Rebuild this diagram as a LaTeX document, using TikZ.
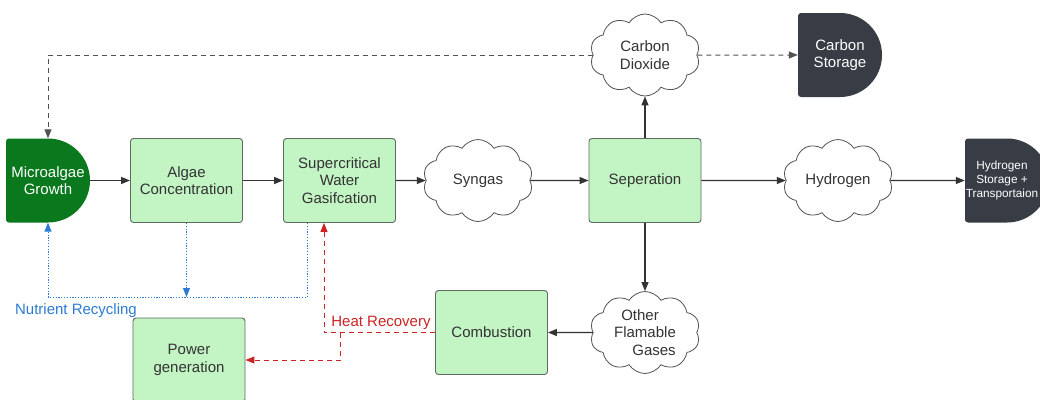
\documentclass[tikz,border=0pt]{standalone}
\usepackage{fontspec}
\setmainfont{Liberation Sans}
\usetikzlibrary{arrows.meta,shapes.symbols,calc}
\definecolor{boxfill}{HTML}{C3F4C4}
\definecolor{boxline}{HTML}{5E6B60}
\definecolor{darkgreen}{HTML}{0A781C}
\definecolor{slate}{HTML}{373C45}
\definecolor{ink}{HTML}{333333}
\definecolor{nutblue}{HTML}{2B7BD3}
\definecolor{heatred}{HTML}{CC2424}
\tikzset{
  x=1pt, y=-1pt,
  every node/.style={font=\fontsize{15}{17.5}\selectfont, text=ink, align=center},
  procbox/.style={draw=boxline, fill=boxfill, line width=0.9pt, rounded corners=3pt,
    minimum width=112pt, minimum height=84pt, inner sep=0pt},
  puff/.style={cloud, draw=ink!85, fill=white, line width=0.8pt, cloud puffs=10,
    cloud puff arc=115, aspect=1.35, minimum width=110pt, minimum height=82pt, inner sep=0pt},
  dnode/.style={minimum width=84pt, minimum height=84pt, inner sep=0pt},
  flow/.style={draw=ink, line width=1.3pt, -{Triangle[length=9pt,width=7pt]}},
  co2line/.style={draw=ink!85, line width=1pt, dash pattern=on 5pt off 4pt,
    -{Triangle[length=9pt,width=7pt]}},
  nut/.style={draw=nutblue, line width=1pt, dash pattern=on 1.2pt off 1.6pt,
    -{Triangle[length=9pt,width=7pt]}},
  heat/.style={draw=heatred, line width=1pt, dash pattern=on 5pt off 4pt,
    -{Triangle[length=9pt,width=7pt]}},
}
% D-shaped terminal: straight left side, semicircular right side (y axis points down)
\newcommand{\dshape}[3]{% centre x, centre y, fill colour
  \fill[#3, rounded corners=3pt] (#1-42,#2+42) -- (#1-42,#2-42) [sharp corners] -- (#1,#2-42)
    arc[start angle=-90, end angle=90, radius=42] [rounded corners=3pt] -- (#1-42,#2+42) -- cycle;
}
\begin{document}
\begin{tikzpicture}
\useasboundingbox (0,0) rectangle (1040,399);
\fill[white] (0,0) rectangle (1040,399);

% terminals
\dshape{48}{180.5}{darkgreen}
\node[dnode, text=white] (growth) at (48,180.5) {Microalgae\\Growth};
\dshape{840}{55}{slate}
\node[dnode, text=white] (cstore) at (840,55) {Carbon\\Storage};
\dshape{1007}{180.5}{slate}
\node[dnode, minimum width=74pt, text=white, font=\fontsize{11.8}{14.3}\selectfont] (hstore) at (1002,180.5) {Hydrogen\\Storage +\\Transportaion};

% process boxes
\node[procbox] (conc) at (186.5,180.5) {Algae\\Concentration};
\node[procbox] (scwg) at (339.5,180.5) {Supercritical\\Water\\Gasifcation};
\node[procbox] (sep) at (645,180.5) {Seperation};
\node[procbox] (comb) at (491.5,332.5) {Combustion};
\node[procbox] (power) at (189,360) {Power\\generation};

% gas clouds
\node[puff] (syngas) at (478,180.5) {Syngas};
\node[puff] (hydro) at (838,180.5) {Hydrogen};
\node[puff] (co2) at (645,55) {Carbon\\Dioxide};
\node[puff] (other) at (645,332.5) {\hspace*{-10pt}Other\\Flamable\\\hspace*{18pt}Gases};

% main process flow
\draw[flow] (growth) -- (conc);
\draw[flow] (conc) -- (scwg);
\draw[flow] (scwg) -- (syngas);
\draw[flow] (syngas) -- (sep);
\draw[flow] (sep) -- (hydro);
\draw[flow] (hydro.east) -- (hstore.west);
\draw[flow] (sep) -- (co2);
\draw[flow] (sep) -- (other);
\draw[flow] (other) -- (comb);

% carbon dioxide routes
\draw[co2line] (co2.west) -| (growth.north);
\draw[co2line] (co2.east) -- (cstore.west);

% nutrient recycling
\coordinate (nbase) at (48,297);
\draw[nut] ([xshift=-32pt]scwg.south) |- (nbase) -- (growth.south);
\draw[nut] (conc.south) -- (conc.south |- nbase);
\node[text=nutblue, anchor=center] (nutlabel) at (76,311) {Nutrient Recycling};

% heat recovery
\draw[heat] (comb.west) -| ([xshift=-15.5pt]scwg.south);
\coordinate (hsplit) at (340,332.5);
\draw[heat] (hsplit) |- (power.east);
\node[text=heatred] (heatlabel) at (381,323) {Heat Recovery};
\end{tikzpicture}
\end{document}
